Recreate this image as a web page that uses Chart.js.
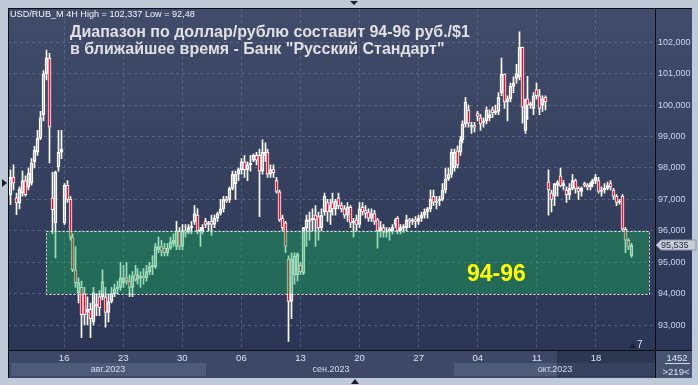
<!DOCTYPE html>
<html><head><meta charset="utf-8">
<script src="https://cdn.jsdelivr.net/npm/chart.js@4.4.0/dist/chart.umd.min.js"></script>
<style>
html,body{margin:0;padding:0;background:#bfc9d7;}
#wrap{position:relative;width:698px;height:385px;overflow:hidden;}
#c{position:absolute;left:0;top:0;}
.t{position:absolute;white-space:nowrap;font-family:"Liberation Sans",Arial,sans-serif;line-height:1;}
.m{transform:translateX(-50%);font-size:9px;color:#d4deef;}
</style></head><body>
<div id="wrap">
<canvas id="c" width="698" height="385"></canvas>
<div class="t" id="hdr" style="left:10px;top:10px;font-size:10px;color:#f2f5fb">USD/RUB_M 4H High = 102,337 Low = 92,48</div>
<div class="t" id="t1" style="left:70px;top:24px;font-size:16px;font-weight:bold;color:#e0e0e2">Диапазон по доллар/рублю составит 94-96 руб./$1</div>
<div class="t" id="t2" style="left:70px;top:41px;font-size:16px;font-weight:bold;color:#e0e0e2">в ближайшее время - Банк "Русский Стандарт"</div>
<div class="t" id="zl" style="left:467px;top:262px;font-size:23px;font-weight:bold;color:#ffff00">94-96</div>
<div class="t m" style="left:108px;top:364.5px">авг.2023</div>
<div class="t m" style="left:331px;top:364.5px">сен.2023</div>
<div class="t m" style="left:555px;top:364.5px">окт.2023</div>
<div class="t m" style="left:677px;top:352.5px;font-size:9.5px;color:#dde6f5">1452</div>
<div class="t m" style="left:676px;top:366.5px;font-size:9.5px;color:#dde6f5">&gt;219&lt;</div>
<div class="t" style="left:637px;top:340px;font-size:10px;color:#e2eaf8">7</div>
</div>
<script>
// ---- data ----
const opens = [97.14,97.71,97.05,96.89,97.2,97.6,97.4,97.52,98.2,98.5,98.95,99.7,101.0,101.5,97.05,96.25,98.03,98.5,96.25,97.45,
97.0,95.8,94.76,94.03,94.2,94.0,93.4,93.5,93.1,93.6,93.9,93.9,93.9,93.4,93.75,94.0,94.15,94.2,94.35,94.5,
94.4,94.2,94.6,94.45,94.5,94.55,94.5,94.7,94.85,94.85,95.4,95.5,95.45,95.3,95.45,95.6,95.5,96.0,95.5,96.0,
95.95,96.1,96.3,96.5,96.0,96.0,96.3,96.2,96.3,96.2,96.4,96.55,96.7,97.0,97.0,97.35,97.5,97.8,97.95,98.2,
97.95,98.1,98.25,98.4,98.4,97.9,98.4,98.5,97.8,97.95,97.6,97.24,96.4,96.25,95.1,93.75,94.6,94.6,94.9,94.65,
96.1,96.3,96.35,96.5,96.45,96.1,96.6,96.9,96.6,96.9,96.7,97.05,96.8,96.7,96.5,96.75,96.25,96.35,96.2,96.75,
96.65,96.6,96.4,96.55,96.35,96.0,96.1,95.95,96.0,96.0,96.2,96.4,96.0,96.1,96.1,96.35,96.3,96.35,96.3,96.4,
96.5,96.6,96.7,97.1,96.9,96.95,97.0,97.3,97.65,97.8,98.0,98.55,98.5,98.9,99.4,99.84,99.3,99.35,99.75,99.6,
99.45,99.5,99.6,99.85,99.75,99.8,100.4,100.98,100.1,100.2,100.6,100.85,100.9,101.84,99.2,100.2,100.0,99.9,100.5,100.3,
100.0,100.25,97.56,97.2,97.1,97.45,97.75,97.43,97.3,97.15,97.35,97.6,97.35,97.25,97.5,97.45,97.4,97.5,97.6,97.6,
97.25,97.3,97.35,97.5,97.3,97.1,96.9,97.1,96.05,95.7,95.2];
const highs = [97.94,98.1,97.2,97.4,97.9,97.75,98.0,98.3,98.7,99.2,99.8,101.1,101.75,101.65,97.87,97.9,99.2,99.2,97.5,97.6,
97.1,95.9,95.5,94.5,94.4,94.2,93.9,93.7,94.2,94.0,94.1,94.76,94.2,94.0,94.2,94.3,94.4,95.0,94.9,95.0,
94.6,94.7,94.9,94.8,94.7,94.8,94.9,95.0,95.2,95.6,95.8,95.7,95.6,95.6,95.8,95.9,96.3,96.1,96.2,96.2,
96.2,96.3,96.8,96.7,96.1,96.2,96.4,96.3,96.5,96.5,96.6,97.0,97.1,97.1,97.4,97.9,97.9,98.0,98.3,98.4,
98.2,98.4,98.45,98.5,98.6,98.9,98.8,98.6,98.1,98.1,97.7,97.3,96.5,96.3,95.2,95.3,95.3,95.3,95.0,96.1,
96.5,96.6,96.7,96.8,96.6,96.7,97.2,97.0,97.0,97.2,97.0,97.2,96.9,96.8,96.9,96.8,96.4,96.5,96.9,96.9,
96.8,96.7,96.7,96.65,96.4,96.3,96.2,96.1,96.1,96.2,96.4,96.45,96.2,96.2,96.5,96.4,96.4,96.45,96.5,96.6,
96.7,96.75,97.3,97.3,97.1,97.1,97.5,98.0,98.0,98.6,98.6,98.7,99.0,99.5,100.25,100.0,99.45,99.45,99.8,99.7,
99.6,99.95,99.85,99.95,100.0,100.4,101.5,101.0,100.3,100.7,100.9,101.3,102.337,101.85,100.2,100.92,100.1,100.4,100.7,100.5,
100.3,100.3,97.94,97.3,97.5,97.6,98.0,97.6,97.4,97.5,97.8,97.65,97.4,97.4,97.55,97.5,97.55,97.65,97.8,97.7,
97.4,97.5,97.55,97.6,97.35,97.15,97.0,97.15,96.1,95.75,95.6];
const lows = [96.83,97.3,96.51,96.7,97.1,97.1,97.3,97.45,98.0,98.4,98.9,99.5,100.8,98.16,95.9,95.14,97.9,98.3,96.2,96.9,
95.7,94.7,94.2,93.7,92.6,93.0,93.0,92.6,93.0,93.3,93.3,93.8,92.93,93.1,93.7,93.9,94.0,94.1,94.2,94.3,
93.9,93.9,94.4,94.3,94.2,94.3,94.4,94.6,94.6,94.8,95.3,95.2,95.2,95.2,95.4,95.5,95.4,95.4,95.4,95.8,
95.9,95.9,96.2,95.9,95.5,95.9,96.1,96.0,95.85,96.1,96.3,96.5,96.6,96.9,96.9,97.3,97.0,97.6,97.8,97.7,
97.6,97.9,98.2,98.1,96.45,97.8,98.2,97.7,97.7,97.7,97.2,96.3,96.0,95.3,92.48,93.2,94.3,94.4,94.6,94.6,
95.5,95.7,96.0,95.5,95.7,96.0,96.5,96.3,96.2,96.5,96.5,96.7,96.6,96.4,96.3,96.1,95.8,96.0,96.1,96.5,
96.4,96.3,96.3,96.2,95.45,95.8,95.8,95.8,95.7,95.9,96.1,95.9,95.9,95.95,96.0,96.1,96.2,96.1,96.2,96.3,
96.4,96.4,96.6,96.8,96.7,96.8,96.95,97.2,97.6,97.7,97.9,98.0,98.4,98.8,99.3,99.3,99.1,99.15,99.5,99.2,
99.3,99.4,99.5,99.6,99.7,99.7,100.3,99.9,99.5,100.1,100.4,100.7,100.8,99.43,99.1,99.55,99.9,99.7,100.2,99.7,
99.8,99.85,96.5,96.6,96.8,97.1,97.4,97.3,96.9,97.0,97.3,97.2,97.0,97.1,97.4,97.3,97.3,97.4,97.5,97.2,
97.1,97.2,97.3,97.3,97.0,96.8,96.85,96.0,95.3,95.4,95.15];
const closes = [97.71,97.52,96.89,97.33,97.6,97.15,97.84,98.16,98.57,98.95,99.6,101.0,101.5,99.3,96.67,97.87,98.5,98.6,97.45,97.0,
95.8,94.76,94.35,94.35,93.33,93.33,93.5,93.2,94.03,93.65,93.55,94.38,93.4,93.75,94.0,94.15,94.2,94.5,94.5,94.4,
94.2,94.55,94.45,94.6,94.55,94.5,94.7,94.85,94.9,95.5,95.5,95.35,95.3,95.45,95.65,95.7,96.0,95.5,96.0,95.95,
96.1,96.15,96.55,96.0,96.02,96.1,96.2,96.25,96.2,96.4,96.55,96.7,97.0,96.95,97.35,97.8,97.8,97.95,98.2,97.95,
98.1,98.15,98.4,98.25,97.9,98.5,98.5,97.8,97.95,97.85,97.25,96.35,96.1,95.5,93.75,95.1,95.2,95.25,94.7,96.1,
96.35,96.35,96.4,96.35,96.1,96.5,97.1,96.6,96.8,96.7,96.95,96.8,96.7,96.5,96.75,96.25,96.3,96.2,96.7,96.6,
96.55,96.4,96.55,96.3,96.0,96.1,95.95,96.0,96.05,96.1,96.35,96.0,96.1,96.12,96.35,96.3,96.35,96.3,96.4,96.5,
96.6,96.7,97.0,96.9,96.95,97.0,97.3,97.65,97.8,98.5,98.5,98.1,98.9,99.4,100.1,99.43,99.35,99.3,99.65,99.4,
99.5,99.84,99.7,99.75,99.8,100.25,100.98,100.1,100.2,100.6,100.7,101.0,101.84,99.94,100.16,100.0,100.05,100.3,100.3,99.9,
100.2,100.1,97.3,97.0,97.5,97.55,97.43,97.5,97.15,97.35,97.6,97.35,97.25,97.35,97.45,97.4,97.5,97.6,97.7,97.25,
97.3,97.35,97.45,97.4,97.1,96.9,96.95,96.05,95.7,95.5,95.535];
const bars = opens.map((_, i) => i);                 // 4H bar index
const xTickPos = [18, 38, 58, 78, 98, 118, 138, 158, 178, 198];
const xTickLabels = ['16', '23', '30', '06', '13', '20', '27', '04', '11', '18'];
const yTicks = [93, 94, 95, 96, 97, 98, 99, 100, 101, 102];
const zoneRange = [94, 96];          // price band 94-96
const zoneBars = [11.9, 216];        // bar span of the band
const lastPrice = 95.535;

const bodyData = bars.map(i => {
  let a = Math.min(opens[i], closes[i]), b = Math.max(opens[i], closes[i]);
  if (b - a < 0.03) { a -= 0.015; b += 0.015; }
  return {x: i, y: [a, b]};
});
const wickUp = bars.map(i => ({x: i, y: [Math.max(opens[i], closes[i]), highs[i]]}));
const wickDn = bars.map(i => ({x: i, y: [lows[i], Math.min(opens[i], closes[i])]}));
const bodyFill = bars.map(i => closes[i] >= opens[i] ? 'rgba(0,0,0,0)' : '#e6132d');

const bgPlugin = {
  id: 'bg',
  beforeDraw(chart) {
    const c = chart.ctx;
    c.save();
    c.fillStyle = '#bfc9d7'; c.fillRect(0, 0, 698, 385);
    const g = c.createLinearGradient(0, 8, 0, 350);
    g.addColorStop(0, '#404c6a'); g.addColorStop(1, '#2b3555');
    c.fillStyle = g; c.fillRect(8, 8, 684, 342);
    c.fillStyle = '#3c4865'; c.fillRect(8, 350, 684, 28);
    c.fillStyle = '#4d5b79'; c.fillRect(11, 363, 195, 13); c.fillRect(454, 363, 201, 13);
    c.fillStyle = 'rgba(22,30,50,0.38)'; c.fillRect(557, 351, 98, 26);
    c.fillStyle = '#465472'; c.fillRect(656, 351, 36, 27);
    c.fillStyle = '#1a1f2b';
    c.beginPath(); c.moveTo(2, 179); c.lineTo(7, 183); c.lineTo(2, 187); c.fill();
    c.beginPath(); c.moveTo(350, 1); c.lineTo(358, 1); c.lineTo(354, 5); c.fill();
    c.beginPath(); c.moveTo(351, 384); c.lineTo(359, 384); c.lineTo(355, 379); c.fill();
    c.restore();
  },
  beforeDatasetsDraw(chart) {
    // snap candle centres to the pixel grid so bodies and wicks stay crisp
    chart.data.datasets.forEach((d, k) => {
      chart.getDatasetMeta(k).data.forEach(el => { el.x = Math.floor(el.x) + 0.5; });
    });
  },
  afterDatasetsDraw(chart) {
    const c = chart.ctx, xs = chart.scales.x, ys = chart.scales.y;
    const x1 = xs.getPixelForValue(zoneBars[0]), x2 = xs.getPixelForValue(zoneBars[1]);
    const y1 = ys.getPixelForValue(zoneRange[1]), y2 = ys.getPixelForValue(zoneRange[0]);
    c.save();
    c.fillStyle = 'rgba(18,175,88,0.42)';
    c.fillRect(x1, y1, x2 - x1, y2 - y1);
    c.strokeStyle = '#f2f2f2'; c.lineWidth = 1; c.setLineDash([2, 2]);
    c.strokeRect(Math.round(x1) + 0.5, Math.round(y1) + 0.5, Math.round(x2 - x1), Math.round(y2 - y1));
    c.restore();
  },
  afterDraw(chart) {
    const c = chart.ctx, ys = chart.scales.y;
    c.save();
    c.strokeStyle = '#0b0e16'; c.lineWidth = 1;
    c.beginPath();
    c.moveTo(8.5, 8); c.lineTo(8.5, 378);
    c.moveTo(8, 8.5); c.lineTo(692, 8.5);
    c.moveTo(655.5, 8); c.lineTo(655.5, 378);
    c.moveTo(8, 350.5); c.lineTo(692, 350.5);
    c.stroke();
    c.strokeStyle = '#cfd8e8';
    c.beginPath(); c.moveTo(665, 363.5); c.lineTo(690, 363.5); c.stroke();
    c.fillStyle = '#1c2336';
    c.beginPath(); c.moveTo(629, 348); c.lineTo(636, 348); c.lineTo(632.5, 343); c.fill();
    const py = Math.round(ys.getPixelForValue(lastPrice));
    c.fillStyle = '#c9cdd6'; c.strokeStyle = '#8d94a3';
    c.beginPath();
    c.moveTo(656, py); c.lineTo(661, py - 5); c.lineTo(696, py - 5); c.lineTo(696, py + 5); c.lineTo(661, py + 5); c.closePath();
    c.fill(); c.stroke();
    c.fillStyle = '#1d2846'; c.font = '9px "Liberation Sans", Arial, sans-serif';
    c.textBaseline = 'middle'; c.textAlign = 'left';
    c.fillText(lastPrice.toFixed(3).replace('.', ','), 661, py + 0.5);
    c.restore();
  }
};

new Chart(document.getElementById('c'), {
  type: 'bar',
  data: {
    datasets: [
      {data: wickUp, backgroundColor: '#ffffff', borderWidth: 0, barThickness: 1, grouped: false, order: 3},
      {data: wickDn, backgroundColor: '#ffffff', borderWidth: 0, barThickness: 1, grouped: false, order: 2},
      {data: bodyData, backgroundColor: bodyFill, borderColor: '#ffffff', borderWidth: 1, borderSkipped: false,
       barThickness: 3, grouped: false, order: 1}
    ]
  },
  options: {
    responsive: false, animation: false, devicePixelRatio: 1,
    layout: {padding: {left: 8, top: 8, right: 6, bottom: 7}},
    plugins: {legend: {display: false}, tooltip: {enabled: false}},
    scales: {
      x: {
        type: 'linear', min: -1, max: 218, offset: false, position: 'bottom',
        afterBuildTicks: s => { s.ticks = xTickPos.map(v => ({value: v})); },
        afterFit: s => { s.height = 28; },
        ticks: {autoSkip: false, maxRotation: 0, padding: 3, color: '#d8e2f2',
                font: {family: '"Liberation Sans", Arial, sans-serif', size: 9.5},
                callback: (v, i) => xTickLabels[i]},
        grid: {offset: false, color: 'rgba(110,125,155,0.55)', drawTicks: false},
        border: {display: false, dash: [3, 3]}
      },
      y: {
        type: 'linear', position: 'right', min: 92.205, max: 103.081,
        afterBuildTicks: s => { s.ticks = yTicks.map(v => ({value: v})); },
        afterFit: s => { s.width = 37; },
        ticks: {padding: 3, color: '#c4d6f2',
                font: {family: '"Liberation Sans", Arial, sans-serif', size: 9},
                callback: v => v.toFixed(3).replace('.', ',')},
        grid: {color: 'rgba(110,125,155,0.55)', drawTicks: false},
        border: {display: false, dash: [3, 3]}
      }
    }
  },
  plugins: [bgPlugin]
});

function fit(id, w) { const e = document.getElementById(id); const fs = parseFloat(e.style.fontSize); e.style.fontSize = (fs * w / e.offsetWidth) + 'px'; return parseFloat(e.style.fontSize); }
fit('hdr', 185);
const fs = fit('t1', 400);
document.getElementById('t2').style.fontSize = fs + 'px';
</script>
</body></html>
